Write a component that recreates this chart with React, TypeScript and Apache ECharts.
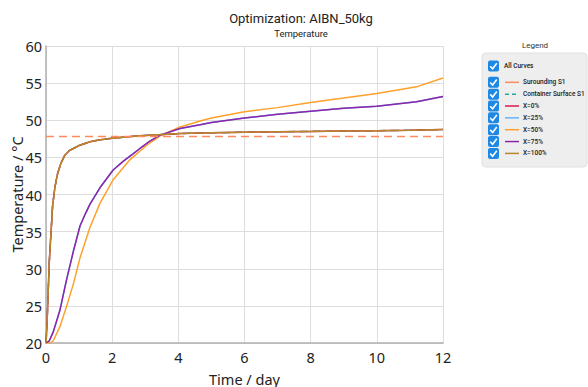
import React, { useEffect, useRef } from "react";
import * as echarts from "echarts";

const titleText = "Optimization: AIBN_50kg";
const subTitleText = "Temperature";
const xName = "Time / day";
const yName = "Temperature / °C";

const legendNames = ["Surounding S1", "Container Surface S1", "X=0%", "X=25%", "X=50%", "X=75%", "X=100%"];
const legendColors = ["#ff8a5c", "#26a69a", "#e0144c", "#64b5f6", "#ffa02a", "#8e24aa", "#b8862b"];
const legendDashed = [false, true, false, false, false, false, false];

// surrounding temperature (dashed)
const surroundTime = [0, 12];
const surroundTemp = [47.8, 47.8];

// surface curves (X=0%, X=100%, container surface)
const fastTime = [0, 0.03, 0.1, 0.2, 0.27, 0.35, 0.45, 0.57, 0.7, 0.83, 1.0, 1.33, 1.6, 1.93, 2.4, 2.84, 3.4, 4.05, 5, 6, 7, 8, 9, 10, 11, 12];
const fastTemp = [20, 22.5, 31, 38.5, 41, 42.8, 44.2, 45.3, 45.9, 46.2, 46.6, 47.1, 47.35, 47.55, 47.75, 47.9, 48.05, 48.2, 48.3, 48.4, 48.45, 48.5, 48.55, 48.6, 48.65, 48.75];

// X=25% / X=75%
const midTime = [0, 0.1, 0.22, 0.42, 0.62, 0.83, 1.03, 1.2, 1.33, 1.63, 2.03, 2.34, 2.64, 2.84, 3.14, 3.45, 4.05, 4.66, 5, 6, 7, 8, 9, 10, 11.2, 12];
const midTemp = [20, 20.3, 21.5, 24.4, 28.5, 32.4, 35.8, 37.5, 38.7, 40.9, 43.3, 44.5, 45.5, 46.2, 47.2, 48.0, 48.9, 49.4, 49.7, 50.3, 50.8, 51.2, 51.6, 51.9, 52.5, 53.2];

// X=50%
const coreTime = [0, 0.15, 0.22, 0.42, 0.62, 0.83, 1.03, 1.33, 1.63, 2.03, 2.54, 3.04, 3.45, 4.05, 4.66, 5, 6, 7, 8, 9, 10, 11.2, 12];
const coreTemp = [20, 20.05, 20.3, 22.2, 24.9, 28.0, 31.5, 35.6, 38.8, 42.0, 44.7, 46.6, 47.9, 49.1, 49.9, 50.3, 51.15, 51.7, 52.4, 53.0, 53.6, 54.5, 55.7];

const xTicks = { min: 0, max: 12, interval: 2 };
const yTicks = { min: 20, max: 60, interval: 5 };

const zip = (a: number[], b: number[]) => a.map((v, i) => [v, b[i]]);

function buildLegend(): any[] {
  const els: any[] = [];
  const checkbox = (x: number, yc: number, s: number) => {
    els.push({
      type: "rect",
      shape: { x, y: yc - s / 2, width: s, height: s, r: 2 },
      style: { fill: "#1e88e5" },
      z: 10,
    });
    els.push({
      type: "polyline",
      shape: {
        points: [
          [x + s * 0.2, yc + s * 0.02],
          [x + s * 0.42, yc + s * 0.25],
          [x + s * 0.8, yc - s * 0.25],
        ],
      },
      style: { stroke: "#ffffff", lineWidth: 1.6, fill: null },
      z: 11,
    });
  };
  els.push({
    type: "text",
    x: 535,
    y: 45,
    style: { text: "Legend", fill: "#333", fontSize: 8, fontFamily: "Roboto", align: "center", verticalAlign: "middle" },
    z: 10,
  });
  els.push({
    type: "rect",
    shape: { x: 482, y: 53, width: 105, height: 114, r: 4 },
    style: { fill: "#eeeeee", stroke: "#e0e0e0", lineWidth: 1 },
    z: 9,
  });
  checkbox(488, 66, 11);
  els.push({
    type: "text",
    x: 504,
    y: 66,
    style: { text: "All Curves", fill: "#222", fontSize: 6.5, fontWeight: 500, fontFamily: "Roboto", verticalAlign: "middle" },
    z: 10,
  });
  legendNames.forEach((name, i) => {
    const yc = 82.3 + i * 11.85;
    checkbox(488, yc, 11);
    els.push({
      type: "line",
      shape: { x1: 505, y1: yc, x2: 519, y2: yc },
      style: { stroke: legendColors[i], lineWidth: 1.5, lineDash: legendDashed[i] ? [4, 3] : null },
      z: 10,
    });
    els.push({
      type: "text",
      x: 523,
      y: yc,
      style: { text: name, fill: "#222", fontSize: 6.5, fontWeight: 500, fontFamily: "Roboto", verticalAlign: "middle" },
      z: 10,
    });
  });
  return els;
}

export default function App() {
  const ref = useRef<HTMLDivElement>(null);
  useEffect(() => {
    if (!ref.current) return;
    const chart = echarts.init(ref.current, null, { renderer: "svg" });
    const line = (name: string, data: number[][], color: string, dashed = false, width = 1.5) => ({
      name,
      type: "line",
      data,
      showSymbol: false,
      symbol: "none",
      smooth: false,
      lineStyle: { color, width, type: dashed ? [8, 5] : "solid" },
      itemStyle: { color },
    });
    chart.setOption({
      animation: false,
      backgroundColor: "#ffffff",
      title: {
        text: titleText,
        subtext: subTitleText,
        left: 296,
        textAlign: "center",
        top: 7,
        itemGap: 3,
        textStyle: { fontSize: 13, fontWeight: "normal", color: "#222", fontFamily: "Roboto" },
        subtextStyle: { fontSize: 9.5, color: "#222", fontFamily: "Roboto" },
      },
      grid: { left: 46, right: 145, top: 46, bottom: 44, containLabel: false, outerBoundsMode: "none" },
      xAxis: {
        type: "value",
        min: xTicks.min,
        max: xTicks.max,
        interval: xTicks.interval,
        name: xName,
        nameLocation: "middle",
        nameGap: 28,
        nameMoveOverlap: false,
        nameTextStyle: { fontSize: 14.5, color: "#222", fontFamily: "Noto Sans" },
        axisLine: { show: true, lineStyle: { color: "#b0b0b0", width: 1.5 } },
        axisTick: { show: false },
        axisLabel: { fontSize: 14.5, color: "#222", fontFamily: "Noto Sans", margin: 6 },
        splitLine: { show: true, lineStyle: { color: "#dddddd", width: 1 } },
      },
      yAxis: {
        type: "value",
        min: yTicks.min,
        max: yTicks.max,
        interval: yTicks.interval,
        name: yName,
        nameLocation: "middle",
        nameGap: 22,
        nameMoveOverlap: false,
        nameTextStyle: { fontSize: 14.5, color: "#222", fontFamily: "Noto Sans" },
        axisLine: { show: true, lineStyle: { color: "#b0b0b0", width: 1.5 } },
        axisTick: { show: false },
        axisLabel: { fontSize: 14.5, color: "#222", fontFamily: "Noto Sans", margin: 4 },
        splitLine: { show: true, lineStyle: { color: "#dddddd", width: 1 } },
      },
      series: [
        line("Container Surface S1", zip(fastTime, fastTemp), legendColors[1], true),
        line("X=0%", zip(fastTime, fastTemp), legendColors[2]),
        line("X=25%", zip(midTime, midTemp), legendColors[3]),
        line("X=50%", zip(coreTime, coreTemp), legendColors[4]),
        line("X=75%", zip(midTime, midTemp), legendColors[5]),
        line("X=100%", zip(fastTime, fastTemp), legendColors[6]),
        line("Surounding S1", zip(surroundTime, surroundTemp), legendColors[0], true),
      ],
      graphic: buildLegend(),
    });
    return () => chart.dispose();
  }, []);
  return <div ref={ref} style={{ position: "absolute", left: 0, top: 0, width: 588, height: 387 }} />;
}
